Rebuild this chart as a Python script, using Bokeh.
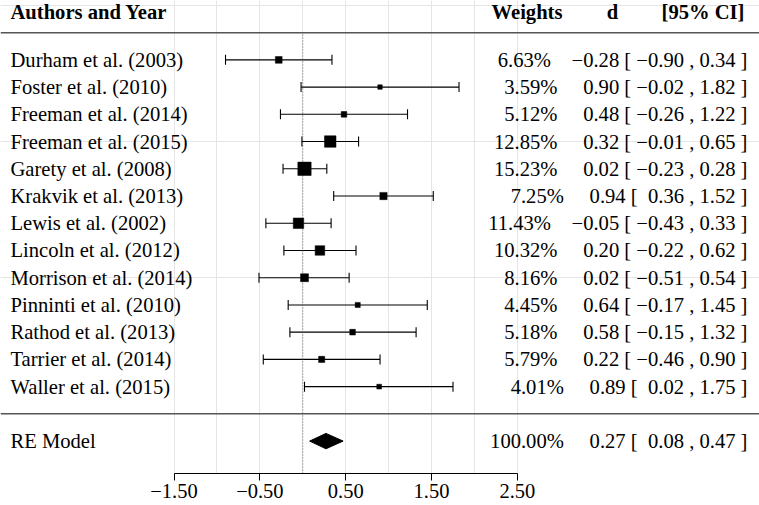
import numpy as np
from bokeh.plotting import figure
from bokeh.models import (Range1d, LinearAxis, FixedTicker, Span, ColumnDataSource,
                          Whisker, TeeHead)
from bokeh.core.properties import value
from bokeh.embed import file_html
from bokeh.resources import INLINE

# ---------------- data ----------------
studies = ["Durham et al. (2003)", "Foster et al. (2010)", "Freeman et al. (2014)",
           "Freeman et al. (2015)", "Garety et al. (2008)", "Krakvik et al. (2013)",
           "Lewis et al. (2002)", "Lincoln et al. (2012)", "Morrison et al. (2014)",
           "Pinninti et al. (2010)", "Rathod et al. (2013)", "Tarrier et al. (2014)",
           "Waller et al. (2015)"]
weights = [6.63, 3.59, 5.12, 12.85, 15.23, 7.25, 11.43, 10.32, 8.16, 4.45, 5.18, 5.79, 4.01]
d = [-0.28, 0.90, 0.48, 0.32, 0.02, 0.94, -0.05, 0.20, 0.02, 0.64, 0.58, 0.22, 0.89]
ci_lb = [-0.90, -0.02, -0.26, -0.01, -0.23, 0.36, -0.43, -0.22, -0.51, -0.17, -0.15, -0.46, 0.02]
ci_ub = [0.34, 1.82, 1.22, 0.65, 0.28, 1.52, 0.33, 0.62, 0.54, 1.45, 1.32, 0.90, 1.75]

re_label = "RE Model"
re_weight = 100.00
re_d = 0.27
re_lb = 0.08
re_ub = 0.47

tick_values = [-1.5, -0.5, 0.5, 1.5, 2.5]
tick_labels = ["\u22121.50", "\u22120.50", "0.50", "1.50", "2.50"]
headers = ["Authors and Year", "Weights", "d", "[95% CI]"]

# ---------------- helpers ----------------
NB = "\u00a0"
MINUS = "\u2212"


def num(v, pad=True):
    s = f"{abs(v):.2f}"
    if v < 0:
        return MINUS + s
    return (NB if pad else "") + s


def annot(w, e, lo, hi):
    return (f"{w:.2f}%" + NB * 4 + num(e) + NB + "[" + NB + num(lo) + NB + "," + NB
            + num(hi, pad=False) + NB + "]")


FONT = value("Liberation Serif")
FS = "20.6px"
ROW_PX = 27.23

k = len(studies)
rows = list(range(k, 0, -1))
wmin, wmax = min(weights), max(weights)
sizes = [8.9 * (0.5 + (w - wmin) / (wmax - wmin)) for w in weights]

src = ColumnDataSource(dict(
    study=studies, row=rows, d=d, lb=ci_lb, ub=ci_ub, size=sizes,
    annot=[annot(w, e, lo, hi) for w, e, lo, hi in zip(weights, d, ci_lb, ci_ub)],
))

Y_BOTTOM = -2.19
Y_TOP = 15.18
p = figure(width=759, height=505,
           x_range=Range1d(-3.521, 5.320), y_range=Range1d(Y_BOTTOM, Y_TOP),
           x_axis_location=None, y_axis_location=None,
           toolbar_location=None, output_backend="svg",
           min_border=0, min_border_bottom=32)
p.outline_line_color = None
p.background_fill_color = "white"
p.border_fill_color = "white"

# horizontal rules
p.add_layout(Span(location=k + 1, dimension="width", line_color="#555555", line_width=1.5))
p.add_layout(Span(location=0, dimension="width", line_color="#555555", line_width=1.5))

# reference line at 0
p.segment(x0=[0], y0=[Y_BOTTOM], x1=[0], y1=[k + 1], line_color="#666666",
          line_width=1, line_dash="1 2")

# CIs
wh = Whisker(source=src, base="row", lower="lb", upper="ub", dimension="width",
             line_color="black", line_width=1.1,
             lower_head=TeeHead(size=10, line_color="black", line_width=1.1),
             upper_head=TeeHead(size=10, line_color="black", line_width=1.1))
p.add_layout(wh)

# squares
p.scatter(x="d", y="row", size="size", marker="square", source=src,
          fill_color="black", line_color="black", line_width=0.5)

# summary diamond
h = 7.7 / ROW_PX
p.patch(x=[re_lb, re_d, re_ub, re_d], y=[-1, -1 + h, -1, -1 - h],
        fill_color="black", line_color="black", line_width=1)

# labels
LX = -3.405
RX = 5.180
p.text(x=LX, y="row", text="study", source=src, text_font=FONT, text_font_size=FS,
       text_align="left", text_baseline="middle", text_color="black")
p.text(x=RX, y="row", text="annot", source=src, text_font=FONT, text_font_size=FS,
       text_align="right", text_baseline="middle", text_color="black")
p.text(x=[LX], y=[-1], text=[re_label], text_font=FONT, text_font_size=FS,
       text_align="left", text_baseline="middle", text_color="black")
p.text(x=[RX], y=[-1], text=[annot(re_weight, re_d, re_lb, re_ub)], text_font=FONT,
       text_font_size=FS, text_align="right", text_baseline="middle", text_color="black")

# headers
hy = Y_TOP - 11.5 / ROW_PX
p.text(x=[LX], y=[hy], text=[headers[0]], text_font=FONT, text_font_size=FS,
       text_font_style="bold", text_align="left", text_baseline="middle")
p.text(x=[3.025], y=[hy], text=[headers[1]], text_font=FONT, text_font_size=FS,
       text_font_style="bold", text_align="right", text_baseline="middle")
p.text(x=[3.607], y=[hy], text=[headers[2]], text_font=FONT, text_font_size=FS,
       text_font_style="bold", text_align="center", text_baseline="middle")
p.text(x=[5.145], y=[hy], text=[headers[3]], text_font=FONT, text_font_size=FS,
       text_font_style="bold", text_align="right", text_baseline="middle")

# x axis
ax = LinearAxis(bounds=(-1.5, 2.5), ticker=FixedTicker(ticks=tick_values),
                major_label_overrides=dict(zip(tick_values, tick_labels)))
ax.axis_line_color = "black"
ax.axis_line_width = 1
ax.major_tick_line_color = "black"
ax.major_tick_out = 7
ax.major_tick_in = 0
ax.minor_tick_out = 0
ax.minor_tick_in = 0
ax.major_label_standoff = 3
ax.major_label_text_font = "Liberation Serif"
ax.major_label_text_font_size = "20.5px"
ax.major_label_text_color = "black"
p.add_layout(ax, "below")

open("out.html", "w").write(file_html(p, INLINE))
